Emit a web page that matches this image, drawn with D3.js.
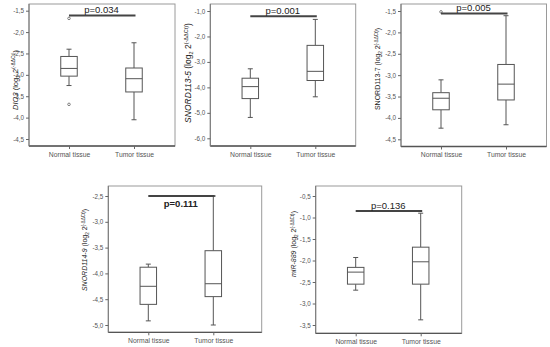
<!DOCTYPE html>
<html>
<head>
<meta charset="utf-8">
<script src="https://cdn.jsdelivr.net/npm/d3@7"></script>
<style>
  body { margin: 0; background: #fff; }
  svg { display: block; font-family: "Liberation Sans", Arial, sans-serif; }
  .tick text { fill: #555; }
  .tick line { stroke: #666; }
</style>
</head>
<body>
<svg id="chart" width="550" height="347"></svg>
<script>
// groups and genes
const groups = ["Normal tissue", "Tumor tissue"];
const genes = ["DIO3", "SNORD113-5", "SNORD113-7", "SNORD114-9", "miR-889"];
const geneItalic = [true, true, false, true, true];
const pLabels = ["p=0.034", "p=0.001", "p=0.005", "p=0.111", "p=0.136"];

// y tick values per panel
const yTickValues = [
  [-1.5, -2.0, -2.5, -3.0, -3.5, -4.0, -4.5],
  [-1.0, -2.0, -3.0, -4.0, -5.0, -6.0],
  [-1.5, -2.0, -2.5, -3.0, -3.5, -4.0, -4.5],
  [-2.5, -3.0, -3.5, -4.0, -4.5, -5.0],
  [-0.5, -1.0, -1.5, -2.0, -2.5, -3.0, -3.5]
];

// box stats: [low whisker, q1, median, q3, high whisker]
const normalStats = [
  [-3.25, -3.03, -2.85, -2.57, -2.40],
  [-5.18, -4.44, -3.97, -3.64, -3.27],
  [-4.24, -3.81, -3.54, -3.41, -3.11],
  [-4.92, -4.60, -4.25, -3.88, -3.82],
  [-2.69, -2.55, -2.27, -2.16, -1.93]
];
const tumorStats = [
  [-4.05, -3.40, -3.09, -2.84, -2.25],
  [-4.37, -3.73, -3.37, -2.35, -1.33],
  [-4.16, -3.58, -3.21, -2.75, -1.61],
  [-5.00, -4.45, -4.20, -3.56, -2.50],
  [-3.38, -2.55, -2.03, -1.69, -0.90]
];
const normalOutliers = [[-1.68, -3.69], [], [-1.52], [], []];
const tumorOutliers = [[], [], [], [], []];

// height of the significance bar, in data units
const pBarValues = [-1.61, -1.21, -1.56, -2.50, -0.85];

// panel layout (pixels)
const layout = [
  {left: 29,    right: 175,   top: 4,   bottom: 146,   yTop: 10.7, yBottom: 139,   labelX: 15,  labelY: 80,  labelSize: 7.5, pBelow: false},
  {left: 210.3, right: 355.7, top: 4,   bottom: 146,   yTop: 11,   yBottom: 138.3, labelX: 188, labelY: 73,  labelSize: 8.5, pBelow: false},
  {left: 401,   right: 546.5, top: 4,   bottom: 146.5, yTop: 11,   yBottom: 139.3, labelX: 378, labelY: 69,  labelSize: 7,   pBelow: false},
  {left: 108.3, right: 261.7, top: 186, bottom: 332.3, yTop: 196,  yBottom: 325,   labelX: 85,  labelY: 250, labelSize: 7,   pBelow: true},
  {left: 315.7, right: 461.7, top: 186, bottom: 333.3, yTop: 196,  yBottom: 325,   labelX: 294, labelY: 244, labelSize: 7,   pBelow: false}
];

const locale = d3.formatLocale({decimal: ",", thousands: ".", grouping: [3], currency: ["", ""], minus: "-"});
const fmt = locale.format(".1f");

const svg = d3.select("#chart");

genes.forEach((gene, i) => drawPanel(i));

function drawPanel(i) {
  const L = layout[i];
  const ticks = yTickValues[i];

  const y = d3.scaleLinear()
    .domain([d3.min(ticks), d3.max(ticks)])
    .range([L.yBottom, L.yTop]);

  const x = d3.scalePoint()
    .domain(groups)
    .range([L.left + 40, L.left + 105]);

  const g = svg.append("g").attr("class", "panel");

  // frame
  g.append("rect")
    .attr("x", L.left).attr("y", L.top)
    .attr("width", L.right - L.left).attr("height", L.bottom - L.top)
    .attr("fill", "none").attr("stroke", "#9a9a9a").attr("stroke-width", 1);
  g.append("line")
    .attr("x1", L.left).attr("x2", L.right)
    .attr("y1", L.bottom).attr("y2", L.bottom)
    .attr("stroke", "#555").attr("stroke-width", 1.3);
  g.append("line")
    .attr("x1", L.left).attr("x2", L.left)
    .attr("y1", L.top).attr("y2", L.bottom)
    .attr("stroke", "#777").attr("stroke-width", 1);

  // y axis
  const yAxisG = g.append("g")
    .attr("transform", `translate(${L.left},0)`)
    .call(d3.axisLeft(y).tickValues(ticks).tickSize(3).tickPadding(2).tickFormat(fmt));
  yAxisG.select(".domain").remove();
  yAxisG.selectAll("text").attr("font-size", 6.3);

  // x axis
  const xAxisG = g.append("g")
    .attr("transform", `translate(0,${L.bottom})`)
    .call(d3.axisBottom(x).tickSize(3).tickPadding(3));
  xAxisG.select(".domain").remove();
  xAxisG.selectAll("text").attr("font-size", 6.8).attr("fill", "#333");

  // y label
  const fs = L.labelSize;
  const sub = fs * 0.65;
  const label = g.append("text")
    .attr("transform", `translate(${L.labelX + fs * 0.35},${L.labelY}) rotate(-90)`)
    .attr("text-anchor", "middle")
    .attr("font-size", fs)
    .attr("fill", "#222");
  label.append("tspan").attr("font-style", geneItalic[i] ? "italic" : "normal").text(genes[i]);
  label.append("tspan").text(" (log");
  label.append("tspan").attr("font-size", sub).attr("dy", fs * 0.25).text("2");
  label.append("tspan").attr("dy", -fs * 0.25).text(" 2");
  label.append("tspan").attr("font-size", sub).attr("dy", -fs * 0.4).text("(-ΔΔCt)");
  label.append("tspan").attr("dy", fs * 0.4).text(")");

  // boxes
  const boxes = [
    {group: groups[0], s: normalStats[i], out: normalOutliers[i]},
    {group: groups[1], s: tumorStats[i], out: tumorOutliers[i]}
  ];
  const bw = 16.5, cap = 5;
  const stroke = "#555";

  boxes.forEach(b => {
    const cx = x(b.group);
    const [lo, q1, med, q3, hi] = b.s;
    const bg = g.append("g");
    bg.append("line")
      .attr("x1", cx).attr("x2", cx).attr("y1", y(hi)).attr("y2", y(q3))
      .attr("stroke", stroke);
    bg.append("line")
      .attr("x1", cx).attr("x2", cx).attr("y1", y(q1)).attr("y2", y(lo))
      .attr("stroke", stroke);
    bg.selectAll(".cap")
      .data([lo, hi])
      .join("line")
      .attr("class", "cap")
      .attr("x1", cx - cap / 2).attr("x2", cx + cap / 2)
      .attr("y1", d => y(d)).attr("y2", d => y(d))
      .attr("stroke", stroke);
    bg.append("rect")
      .attr("x", cx - bw / 2).attr("width", bw)
      .attr("y", y(q3)).attr("height", y(q1) - y(q3))
      .attr("fill", "#fff").attr("stroke", stroke);
    bg.append("line")
      .attr("x1", cx - bw / 2).attr("x2", cx + bw / 2)
      .attr("y1", y(med)).attr("y2", y(med))
      .attr("stroke", stroke);
    bg.selectAll(".outlier")
      .data(b.out)
      .join("circle")
      .attr("class", "outlier")
      .attr("cx", cx).attr("cy", d => y(d))
      .attr("r", 1.3)
      .attr("fill", "#fff").attr("stroke", "#666").attr("stroke-width", 0.8);
  });

  // significance bar
  const py = y(pBarValues[i]);
  g.append("line")
    .attr("x1", x(groups[0])).attr("x2", x(groups[1]) + 1.5)
    .attr("y1", py).attr("y2", py)
    .attr("stroke", "#444").attr("stroke-width", 2);
  g.append("text")
    .attr("x", (x(groups[0]) + x(groups[1])) / 2)
    .attr("y", L.pBelow ? py + 11 : py - 2.5)
    .attr("text-anchor", "middle")
    .attr("font-size", 9.5)
    .attr("font-weight", L.pBelow ? "bold" : "normal")
    .attr("fill", "#222")
    .text(pLabels[i]);
}
</script>
</body>
</html>
